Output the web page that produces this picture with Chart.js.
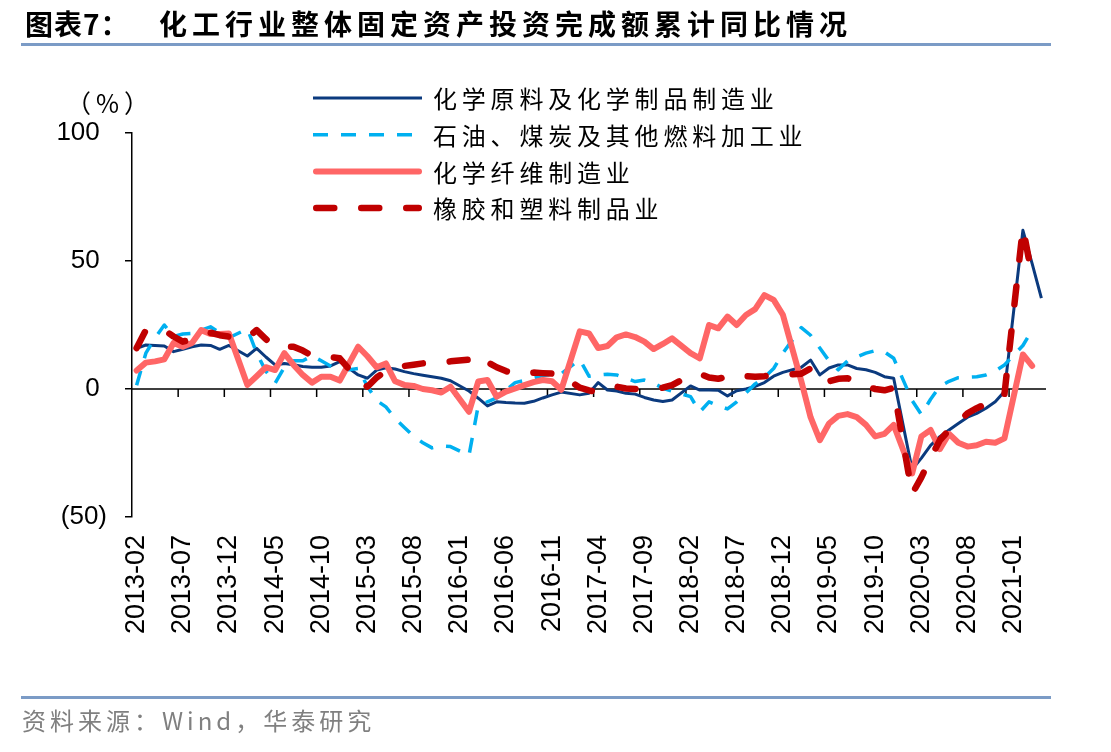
<!DOCTYPE html>
<html>
<head>
<meta charset="utf-8">
<script src="https://cdn.jsdelivr.net/npm/chart.js@4.4.1/dist/chart.umd.min.js"></script>
<style>
  body { margin: 0; background: #fff; }
  #wrap { position: relative; width: 1111px; height: 752px; overflow: hidden; }
  canvas { position: absolute; left: 0; top: 0; }
  .t { position: absolute; white-space: pre; color: #000; font-family: "Noto Sans CJK SC", sans-serif; }
  #t1 { left: 25px; top: 6px; font-size: 28px; font-weight: bold; letter-spacing: 1px; line-height: 34px; }
  #t2 { left: 159px; top: 6px; font-size: 28px; font-weight: bold; letter-spacing: 5px; line-height: 34px; }
  .rule { position: absolute; left: 21px; width: 1030px; height: 3px; background: #7b9bc6; }
  #unit { left: 66px; top: 88px; font-size: 25px; line-height: 28px; letter-spacing: 5px; }
  #src { left: 22px; top: 704px; font-size: 24px; line-height: 32px; color: #808080; letter-spacing: 4px; }
</style>
</head>
<body>
<div id="wrap">
  <canvas id="myChart" width="1111" height="752"></canvas>
  <div class="t" id="t1">图表7：</div>
  <div class="t" id="t2">化工行业整体固定资产投资完成额累计同比情况</div>
  <div class="rule" style="top:43px"></div>
  <div class="t" id="unit">（%）</div>
  <div class="rule" style="top:696px"></div>
  <div class="t" id="src">资料来源：Wind，华泰研究</div>
</div>
<script>
// months 2013-02 .. 2021-04 (January has no cumulative figure -> null)
const months = [];
for (let y = 2013, m = 2; y < 2021 || (y === 2021 && m <= 4);) {
  months.push(y + '-' + String(m).padStart(2, '0'));
  m++;
  if (m > 12) { m = 1; y++; }
}

const seriesNames = ['化学原料及化学制品制造业', '石油、煤炭及其他燃料加工业', '化学纤维制造业', '橡胶和塑料制品业'];

const chemMaterials = [
  15.9, 17.2, 17, 16.8, 14.6, 15.5, 16.5, 17.2, 17, 15.5, 17, null,
  12.9, 15.9, 12.5, 9.4, 10, 9.5, 8.8, 8.5, 8.5, 9, 10.7, null,
  5.5, 4.2, 7.4, 8.3, 7.8, 6.8, 6, 5.4, 4.8, 4.2, 3.2, null,
  -0.8, -3.6, -6.6, -5, -5.3, -5.5, -5.6, -4.8, -3.5, -2.3, -1.2, null,
  -2.3, -1.7, 2.5, -0.4, -0.8, -1.7, -2, -3.3, -4.3, -4.9, -4.3, null,
  1.2, -0.4, -0.4, -0.5, -2.7, -0.7, 0, 1, 2.5, 5, 6.5, null,
  8.5, 11.3, 5.5, 8.2, 9.4, 9.4, 8, 7.5, 6.5, 4.8, 4.2, null,
  -31.5, -27, -22, -18.6, -16, -13.5, -11, -9.5, -7.5, -5, -1, null,
  62, 49, 35.5
];
const petroleum = [
  1.5, 14, 20, 25, 20.5, 21.5, 21.7, 23, 24.3, 22, 20, null,
  23.5, 14, 7, 2.3, 8.5, 11, 11, 13, 11, 9, 7, null,
  8, 1, -4.5, -7, -11.5, -15, -18.5, -21, -23, -22.2, -22.5, null,
  -26, -6.5, -5, -3.5, -0.5, 2.5, 3.3, 4.2, 5.3, 5.7, 6, null,
  11.5, 5, 5.5, 5.8, 5.5, 4.2, 2.9, 3.5, 2.3, 0.3, -0.8, null,
  -3, -9, -5, -6.5, -7.8, -5, -1.5, 2, 4.5, 8, 14, null,
  24, 21, 16, 11, 7.5, 11, 12.5, 14, 15, 14.5, 12, null,
  -4.5, -10, -4, 1, 3, 4.4, 4.6, 4.8, 5.5, 7, 9.4, null,
  17, 23, null
];
const chemFiber = [
  7.2, 10.3, 10.8, 11.6, 18, 16.5, 18, 23, 21.5, 21.5, 21.7, null,
  1.6, 5, 8.5, 7.4, 14, 9.4, 5.5, 2.5, 4.8, 4.8, 3.3, null,
  16.5, 12.8, 8.5, 10, 3, 1.6, 1.2, 0, -0.5, -1.4, 0.9, null,
  -8.9, 2.9, 3.5, -3, -1, 0.2, 1.5, 2.7, 3.5, 3, -0.3, null,
  22.5, 21.7, 16, 16.8, 20.2, 21.3, 20.3, 18.5, 15.6, 17.6, 19.8, null,
  14, 12, 25, 23.7, 28.3, 25, 28.9, 31.2, 36.7, 34.8, 29, null,
  3, -11, -20, -13.5, -10.5, -9.8, -11, -14, -18.5, -17.5, -14, null,
  -33, -18.5, -16, -23.5, -17.5, -21, -22.5, -22, -20.6, -21, -19.3, null,
  13.5, 9, null
];
const rubberPlastics = [
  16, 23, 22.5, 23, 20.5, 18.5, 19.5, 21, 22, 21, 20.5, null,
  20, 23, 19.5, 16.5, 16.5, 16.5, 15, 13, 12.5, 12.5, 12, null,
  3.5, 0.9, 4.5, 7, 7.8, 9, 9.5, 10, 10.5, 10.3, 10.8, null,
  11.5, 13.3, 10.5, 8.5, 7, 5.8, 6, 6.4, 6.2, 6, 5.5, null,
  0.5, -0.5, -1.4, -0.5, 0.9, 0.2, 0, -0.1, 0.3, 0.5, 1.5, null,
  5.5, 5.9, 4.5, 4, 4.8, 5.9, 5, 4.8, 5, 5.3, 5.5, null,
  6, 8, 3.5, 3, 4, 4.2, 2.5, 1, 0, -0.5, 0.5, null,
  -41, -34.5, -27, -20, -16, -13, -9.5, -7.5, -5.8, -4.3, -2, null,
  63, 44, null
];

const yTicks = [-50, 0, 50, 100];

// zero line with tick marks every 5 months (Excel style axis crossing at 0)
const zeroAxis = {
  id: 'zeroAxis',
  beforeDatasetsDraw(chart) {
    const {ctx, chartArea, scales} = chart;
    const y0 = scales.y.getPixelForValue(0);
    ctx.save();
    ctx.strokeStyle = '#000';
    ctx.lineWidth = 1.5;
    ctx.beginPath();
    ctx.moveTo(chartArea.left, y0);
    ctx.lineTo(chartArea.right, y0);
    for (let i = 5; i < months.length; i += 5) {
      const px = (scales.x.getPixelForValue(i - 1) + scales.x.getPixelForValue(i)) / 2;
      ctx.moveTo(px, y0);
      ctx.lineTo(px, y0 + 8);
    }
    ctx.stroke();
    ctx.restore();
  }
};

// legend stacked in one column, like the original
const legendBox = {
  id: 'legendBox',
  afterDraw(chart) {
    const ctx = chart.ctx;
    chart.data.datasets.forEach((ds, k) => {
      const y = 98 + k * 36.7;
      ctx.save();
      ctx.strokeStyle = ds.borderColor;
      ctx.lineWidth = ds.borderWidth;
      ctx.lineCap = ds.borderCapStyle || 'butt';
      ctx.setLineDash(ds.borderDash || []);
      const pad = ctx.lineCap === 'round' ? ds.borderWidth / 2 : 0;
      ctx.beginPath();
      ctx.moveTo(313 + pad, y);
      ctx.lineTo(422 - pad, y);
      ctx.stroke();
      ctx.setLineDash([]);
      ctx.fillStyle = '#000';
      ctx.font = '24px "Noto Sans CJK SC"';
      ctx.letterSpacing = '4.8px';
      ctx.textBaseline = 'middle';
      ctx.fillText(ds.label, 433, y + 1);
      ctx.restore();
    });
  }
};

const data = {
  labels: months,
  datasets: [
    {
      label: seriesNames[0],
      data: chemMaterials,
      borderColor: '#0b3a7e',
      borderWidth: 3,
      order: 3
    },
    {
      label: seriesNames[1],
      data: petroleum,
      borderColor: '#00b0f0',
      borderWidth: 3.5,
      borderDash: [15, 13],
      order: 2
    },
    {
      label: seriesNames[2],
      data: chemFiber,
      borderColor: '#ff6666',
      borderWidth: 6,
      borderCapStyle: 'round',
      order: 1
    },
    {
      label: seriesNames[3],
      data: rubberPlastics,
      borderColor: '#c00000',
      borderWidth: 6.5,
      borderDash: [18, 27],
      borderCapStyle: 'round',
      order: 0
    }
  ]
};

const config = {
  type: 'line',
  data: data,
  options: {
    responsive: false,
    animation: false,
    devicePixelRatio: 1,
    spanGaps: true,
    layout: { padding: { top: 133, right: 65, left: 0, bottom: 0 } },
    elements: {
      point: { radius: 0, hoverRadius: 0 },
      line: { tension: 0, borderJoinStyle: 'round', fill: false }
    },
    plugins: {
      legend: { display: false },
      tooltip: { enabled: false }
    },
    scales: {
      x: {
        type: 'category',
        offset: true,
        grid: { display: false, drawTicks: false },
        border: { display: false },
        ticks: {
          autoSkip: false,
          maxRotation: 90,
          minRotation: 90,
          padding: 18,
          color: '#000',
          font: { family: '"Liberation Sans", Arial', size: 27 },
          callback: (v, i) => (i % 5 === 0 ? months[i] : null)
        },
        afterFit: s => { s.height = 235; }
      },
      y: {
        min: -50,
        max: 100,
        afterBuildTicks: s => { s.ticks = yTicks.map(v => ({ value: v })); },
        grid: { drawOnChartArea: false, drawTicks: true, tickLength: 7, color: '#000', lineWidth: 1.5 },
        border: { display: true, color: '#000', width: 1.5 },
        ticks: {
          padding: 18,
          color: '#000',
          font: { family: '"Liberation Sans", Arial', size: 26 },
          callback: v => (v < 0 ? '(' + (-v) + ')' : v + ' ')
        },
        afterFit: s => { s.width = 132; }
      }
    }
  },
  plugins: [zeroAxis, legendBox]
};

const myChart = new Chart(document.getElementById('myChart'), config);
</script>
</body>
</html>
